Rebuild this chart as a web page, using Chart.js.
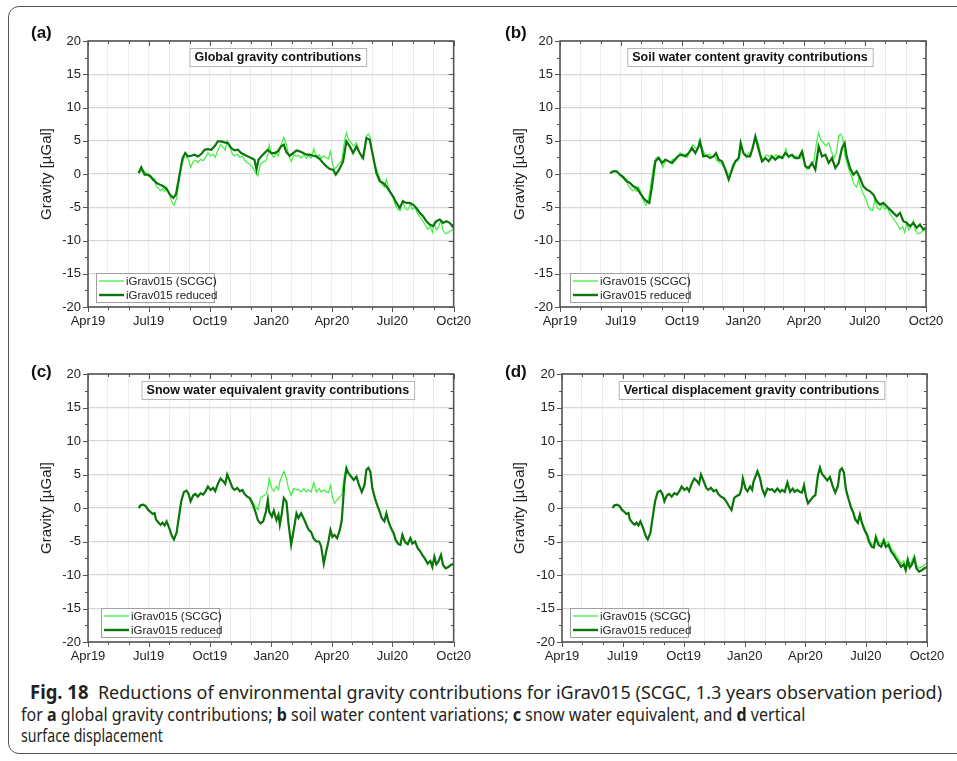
<!DOCTYPE html>
<html>
<head>
<meta charset="utf-8">
<script src="https://cdn.jsdelivr.net/npm/chart.js@4.4.1/dist/chart.umd.min.js"></script>
<style>
  body { margin: 0; background: #fff; width: 957px; height: 761px; overflow: hidden; position: relative; font-family: Arial, "Liberation Sans", sans-serif; }
  .frame { position: absolute; left: 8px; top: 6px; width: 1000px; height: 746px; border: 1.5px solid #555; border-radius: 11px; }
  .panel { position: absolute; }
  .tag { position: absolute; font-weight: bold; font-size: 17px; color: #111; }
  .caption { position: absolute; left: 21px; top: 681px; font-family: "Noto Sans", "Open Sans", Arial, sans-serif; font-size: 18.5px; line-height: 21px; color: #231f20; white-space: nowrap; }
  .caption span { display: inline-block; transform-origin: 0 0; }
  .caption b { font-weight: bold; }
  .caption .fig { font-size: 19px; }
</style>
</head>
<body>
<div class="frame"></div>

<canvas id="pa" class="panel" width="478" height="330" style="left:0;top:0"></canvas>
<canvas id="pb" class="panel" width="479" height="330" style="left:478px;top:0"></canvas>
<canvas id="pc" class="panel" width="478" height="335" style="left:0;top:330px"></canvas>
<canvas id="pd" class="panel" width="479" height="335" style="left:478px;top:330px"></canvas>

<div class="tag" style="left:31px;top:23px">(a)</div>
<div class="tag" style="left:505px;top:23px">(b)</div>
<div class="tag" style="left:31px;top:362px">(c)</div>
<div class="tag" style="left:505px;top:362px">(d)</div>

<div class="caption" id="caption">
  <div style="padding-left:9px"><span data-w="912"><b class="fig">Fig. 18</b>&nbsp; Reductions of environmental gravity contributions for iGrav015 (SCGC, 1.3 years observation period)</span></div>
  <div><span data-w="784">for <b>a</b> global gravity contributions; <b>b</b> soil water content variations; <b>c</b> snow water equivalent, and <b>d</b> vertical</span></div>
  <div><span data-w="142">surface displacement</span></div>
</div>

<script>
// days counted from 1 Apr 2019
const tickLabels = ['Apr19', 'Jul19', 'Oct19', 'Jan20', 'Apr20', 'Jul20', 'Oct20'];
const seriesNames = ['iGrav015 (SCGC)', 'iGrav015 reduced'];
const panelTitles = ['Global gravity contributions', 'Soil water content gravity contributions',
  'Snow water equivalent gravity contributions', 'Vertical displacement gravity contributions'];

// observed residual (light green), same in all panels
const scgcDays = [76, 79, 83, 87, 90, 94, 97, 100, 102, 106,
  109, 112, 115, 118, 122, 126, 129, 133, 137, 140,
  144, 148, 151, 154, 158, 161, 165, 169, 173, 177,
  180, 184, 188, 191, 195, 199, 203, 206, 209, 213,
  217, 220, 224, 228, 232, 235, 239, 243, 247, 251,
  255, 259, 263, 267, 270, 272, 276, 279, 283, 286,
  288, 291, 294, 298, 301, 305, 309, 313, 316, 320,
  324, 328, 331, 335, 339, 343, 347, 350, 354, 358,
  361, 364, 367, 370, 374, 378, 381, 385, 388, 391,
  395, 399, 403, 407, 411, 415, 418, 421, 424, 427,
  431, 435, 438, 441, 445, 448, 451, 455, 459, 462,
  466, 469, 472, 476, 480, 484, 487, 491, 495, 499,
  502, 506, 510, 514, 517, 520, 523, 526, 530, 533,
  537, 541, 545, 549];
const scgc = [0.0, 0.4, 0.5, 0.25, -0.25, -0.6, -0.9, -0.75, -1.7, -2.2,
  -2.5, -2.2, -2.6, -2.0, -3.0, -4.2, -4.7, -3.7, -1.0, 1.0,
  2.4, 2.6, 2.1, 1.0, 1.9, 2.1, 1.7, 2.2, 2.0, 2.6,
  3.2, 2.7, 3.0, 2.5, 3.6, 4.4, 4.0, 3.6, 5.0, 4.0,
  3.0, 2.7, 3.0, 2.5, 2.7, 2.1, 1.7, 1.5, 1.0, 0.3,
  -0.3, 1.5, 1.8, 2.0, 2.9, 4.4, 2.9, 2.5, 3.2, 2.7,
  3.9, 4.7, 5.5, 4.4, 2.9, 1.9, 2.9, 2.7, 2.8, 2.4,
  2.9, 2.4, 2.7, 2.4, 3.8, 2.4, 2.9, 2.4, 2.7, 2.4,
  2.3, 3.4, 1.7, 0.7, 1.2, 1.7, 1.9, 4.9, 6.2, 5.2,
  4.7, 4.2, 4.7, 3.4, 2.4, 3.4, 5.7, 6.0, 5.4, 2.9,
  1.4, 0.2, -0.55, -1.5, -2.0, -0.8, -2.0, -3.0, -3.8, -4.8,
  -5.4, -5.5, -4.0, -5.1, -5.4, -4.5, -5.3, -5.0, -6.0, -6.5,
  -7.0, -7.6, -8.3, -7.9, -8.8, -7.3, -8.4, -8.0, -7.0, -8.5,
  -9.0, -8.8, -8.5, -8.3];

// (a) reduced by global contributions
const globalDays = [76, 80, 85, 90, 94, 98, 103, 108, 113, 118,
  123, 128, 132, 137, 142, 146, 150, 155, 160, 165,
  170, 175, 180, 185, 190, 195, 200, 205, 210, 215,
  220, 225, 230, 235, 240, 245, 250, 253, 256, 260,
  265, 270, 275, 280, 285, 290, 294, 298, 303, 308,
  313, 318, 323, 328, 333, 338, 343, 348, 353, 358,
  363, 368, 372, 377, 383, 388, 393, 398, 403, 408,
  413, 418, 423, 427, 433, 438, 443, 448, 453, 458,
  463, 468, 473, 478, 483, 488, 493, 498, 503, 508,
  513, 518, 523, 528, 533, 538, 543, 549];
const globalReduced = [0.15, 1.0, -0.1, -0.1, -0.35, -0.85, -1.35, -1.6, -1.85, -2.25,
  -3.1, -3.6, -3.1, -0.35, 2.4, 3.15, 2.65, 2.75, 2.9, 2.65,
  3.0, 3.65, 3.75, 3.65, 4.15, 4.9, 4.9, 4.75, 4.65, 3.9,
  3.55, 3.65, 3.15, 2.9, 2.65, 2.4, 2.15, 0.65, 2.15, 2.65,
  3.15, 3.65, 3.15, 3.15, 3.4, 4.15, 4.4, 3.25, 2.75, 3.15,
  3.55, 3.4, 3.15, 2.9, 2.9, 2.75, 2.65, 2.25, 1.65, 1.15,
  0.75, 0.65, -0.1, 0.65, 1.9, 4.9, 4.15, 3.15, 4.15, 3.15,
  2.4, 5.4, 5.15, 3.15, 0.15, -1.1, -1.35, -1.85, -2.6, -3.35,
  -4.35, -5.1, -4.1, -4.35, -4.35, -4.6, -5.1, -5.85, -6.35, -7.1,
  -7.6, -7.85, -7.1, -6.85, -7.35, -7.1, -7.35, -8.1];

// (b) reduced by soil water content
const soilDays = [75, 80, 85, 90, 95, 100, 105, 110, 115, 120,
  125, 130, 134, 138, 143, 148, 153, 158, 163, 168,
  173, 178, 183, 188, 193, 198, 203, 208, 210, 215,
  220, 225, 230, 234, 238, 243, 248, 253, 258, 263,
  268, 271, 275, 280, 285, 289, 293, 298, 303, 308,
  313, 318, 323, 328, 333, 338, 343, 348, 353, 358,
  363, 368, 373, 378, 383, 388, 393, 398, 403, 408,
  413, 418, 423, 427, 430, 435, 440, 445, 450, 455,
  460, 465, 470, 475, 480, 485, 490, 495, 500, 505,
  510, 515, 520, 525, 530, 535, 540, 545, 549];
const soilReduced = [0.15, 0.4, 0.4, -0.1, -0.45, -1.1, -1.35, -1.85, -2.1, -2.85,
  -3.6, -4.1, -4.35, -1.85, 1.9, 2.4, 1.65, 2.15, 1.9, 1.65,
  2.25, 2.75, 2.9, 2.65, 3.15, 3.9, 3.15, 4.15, 4.9, 2.65,
  2.75, 2.4, 2.65, 3.15, 2.15, 1.9, 0.65, -0.85, 0.65, 1.9,
  2.4, 4.65, 3.15, 2.65, 2.65, 3.9, 5.65, 3.65, 1.9, 2.4,
  1.9, 2.65, 2.15, 2.65, 2.4, 3.15, 2.65, 2.9, 2.4, 2.4,
  3.4, 1.15, 0.9, 1.65, 0.65, 4.15, 2.65, 2.9, 1.65, 2.4,
  0.9, 1.65, 3.9, 4.65, 2.65, 0.9, -0.1, 0.4, -0.6, -1.85,
  -2.35, -2.6, -3.1, -4.1, -4.6, -4.35, -4.85, -5.35, -5.85, -6.35,
  -5.85, -7.1, -7.35, -7.85, -7.35, -8.1, -7.6, -8.35, -8.1];

// (c) reduced by snow water equivalent (on scgcDays)
const snowReduced = [0.0, 0.4, 0.5, 0.25, -0.25, -0.6, -0.9, -0.75, -1.7, -2.2,
  -2.5, -2.2, -2.6, -2.0, -3.0, -4.2, -4.7, -3.7, -1.0, 1.0,
  2.4, 2.6, 2.1, 1.0, 1.9, 2.1, 1.7, 2.2, 2.0, 2.6,
  3.2, 2.7, 3.0, 2.5, 3.6, 4.4, 4.0, 3.6, 5.0, 4.0,
  3.0, 2.7, 3.0, 2.5, 2.7, 2.1, 1.7, 1.5, 0.6, -0.45,
  -1.8, -2.3, -2.0, -0.6, 1.2, -0.5, -1.3, -0.4, -1.8, -1.0,
  -2.5, -0.8, 1.5, 0.9, -2.3, -5.5, -3.2, -0.8, -1.5, -0.8,
  -1.6, -2.5, -3.2, -3.6, -4.6, -5.0, -5.0, -5.7, -8.3, -6.3,
  -5.0, -3.3, -4.3, -4.0, -4.5, -3.3, -1.8, 3.8, 5.9, 5.2,
  4.7, 4.2, 4.7, 3.4, 2.4, 3.4, 5.7, 6.0, 5.4, 2.9,
  1.4, 0.2, -0.55, -1.5, -2.0, -0.8, -2.0, -3.0, -3.8, -4.8,
  -5.4, -5.5, -4.0, -5.1, -5.4, -4.5, -5.3, -5.0, -6.0, -6.5,
  -7.0, -7.6, -8.3, -7.9, -8.8, -7.3, -8.4, -8.0, -7.0, -8.5,
  -9.0, -8.8, -8.5, -8.3];

// (d) reduced by vertical displacement (on scgcDays)
const verticalReduced = [0.0, 0.4, 0.5, 0.25, -0.25, -0.6, -0.9, -0.75, -1.7, -2.2,
  -2.5, -2.2, -2.6, -2.0, -3.0, -4.2, -4.7, -3.7, -1.0, 1.0,
  2.4, 2.6, 2.1, 1.0, 1.9, 2.1, 1.7, 2.2, 2.0, 2.6,
  3.2, 2.7, 3.0, 2.5, 3.6, 4.4, 4.0, 3.6, 5.0, 4.0,
  3.0, 2.7, 3.0, 2.5, 2.7, 2.1, 1.7, 1.5, 1.0, 0.3,
  -0.3, 1.5, 1.8, 2.0, 2.9, 4.4, 2.9, 2.5, 3.2, 2.7,
  3.9, 4.7, 5.5, 4.4, 2.9, 1.9, 2.9, 2.7, 2.8, 2.4,
  2.9, 2.4, 2.7, 2.4, 3.8, 2.4, 2.9, 2.4, 2.7, 2.4,
  2.3, 3.4, 1.7, 0.7, 1.2, 1.7, 1.9, 4.9, 6.0, 5.1,
  4.6, 4.1, 4.6, 3.3, 2.3, 3.3, 5.6, 5.9, 5.3, 2.8,
  1.3, 0.0, -0.7, -1.7, -2.2, -1.0, -2.2, -3.3, -4.1, -5.1,
  -5.8, -5.9, -4.4, -5.5, -5.8, -4.9, -5.8, -5.5, -6.5, -7.0,
  -7.5, -8.1, -8.8, -8.4, -9.3, -7.8, -8.9, -8.5, -7.5, -9.0,
  -9.5, -9.3, -9.0, -8.8];

const start = Date.UTC(2019, 3, 1);
const monthDays = [];
for (let i = 0; i <= 18; i++) monthDays.push((Date.UTC(2019, 3 + i, 1) - start) / 864e5);

const pts = (xs, ys) => xs.map((d, i) => ({ x: d, y: ys[i] }));

const lightGreen = '#3cf03c';
const darkGreen = '#0a760a';

const decor = {
  id: 'decor',
  afterDraw(chart, args, opts) {
    const { ctx, chartArea: a, scales: { x, y } } = chart;
    const line = (x1, y1, x2, y2) => { ctx.beginPath(); ctx.moveTo(x1, y1); ctx.lineTo(x2, y2); ctx.stroke(); };
    ctx.save();
    ctx.strokeStyle = '#555';
    ctx.lineWidth = 1;
    monthDays.forEach((d, i) => {
      const px = Math.round(x.getPixelForValue(d)) + 0.5;
      const len = i % 3 === 0 ? 5 : 3;
      line(px, a.bottom, px, a.bottom + len);
      line(px, a.top, px, a.top + len);
    });
    for (let v = -20; v <= 20; v += 2.5) {
      const py = Math.round(y.getPixelForValue(v)) + 0.5;
      const len = v % 5 === 0 ? 5 : 3;
      line(a.left - len, py, a.left, py);
      line(a.right - len, py, a.right, py);
    }
    ctx.lineWidth = 1.6;
    ctx.strokeRect(a.left, a.top, a.right - a.left, a.bottom - a.top);

    // title box
    ctx.font = 'bold 12.5px Arial';
    const tw = ctx.measureText(opts.title).width;
    const cx = (a.left + a.right) / 2 + 7;
    const bx = cx - tw / 2 - 5, by = a.top + 7;
    ctx.fillStyle = '#fff';
    ctx.fillRect(bx, by, tw + 10, 18);
    ctx.strokeStyle = '#b5b5b5';
    ctx.lineWidth = 1;
    ctx.strokeRect(bx + 0.5, by + 0.5, tw + 10, 18);
    ctx.fillStyle = '#111';
    ctx.textBaseline = 'middle';
    ctx.textAlign = 'left';
    ctx.fillText(opts.title, bx + 5, by + 10);

    // legend
    const lx = a.left + opts.legendDx, ly = a.bottom - 34;
    ctx.fillStyle = '#fff';
    ctx.fillRect(lx, ly, 118, 29);
    ctx.strokeStyle = '#a0a0a0';
    ctx.strokeRect(lx + 0.5, ly + 0.5, 118, 29);
    ctx.font = '11.5px Arial';
    ctx.fillStyle = '#222';
    [[lightGreen, 1.3], [darkGreen, 2.4]].forEach(([c, w], i) => {
      const yy = ly + 8 + i * 14;
      ctx.strokeStyle = c;
      ctx.lineWidth = w;
      line(lx + 3, yy, lx + 28, yy);
      ctx.fillText(seriesNames[i], lx + 30, yy + 0.5);
    });
    ctx.restore();
  }
};

function makePanel(id, p) {
  new Chart(document.getElementById(id), {
    type: 'line',
    data: {
      datasets: [
        { data: pts(p.days, p.values), borderColor: darkGreen, borderWidth: 2.2, pointRadius: 0, tension: 0 },
        { data: pts(scgcDays, scgc), borderColor: lightGreen, borderWidth: 1.2, pointRadius: 0, tension: 0 }
      ]
    },
    options: {
      responsive: false,
      animation: false,
      layout: { padding: { top: p.top, right: p.right, left: 0, bottom: 0 } },
      plugins: {
        legend: { display: false },
        tooltip: { enabled: false },
        decor: { title: p.title, legendDx: p.legendDx }
      },
      scales: {
        x: {
          type: 'linear',
          min: 0,
          max: 549,
          afterBuildTicks: s => { s.ticks = monthDays.map(v => ({ value: v })); },
          afterFit: s => { s.height = 23; },
          grid: { color: '#ececec', lineWidth: 1, drawTicks: false },
          border: { display: false },
          ticks: {
            autoSkip: false,
            maxRotation: 0,
            padding: 7,
            color: '#222',
            font: { size: 13, family: 'Arial' },
            callback: v => {
              const i = monthDays.indexOf(v);
              return i >= 0 && i % 3 === 0 ? tickLabels[i / 3] : '';
            }
          }
        },
        y: {
          min: -20,
          max: 20,
          afterFit: s => { s.width = p.yw; },
          grid: { color: '#d8d8d8', lineWidth: 1.3, drawTicks: false },
          border: { display: false },
          ticks: { stepSize: 5, padding: 7, color: '#222', font: { size: 13, family: 'Arial' } },
          title: {
            display: true,
            text: 'Gravity [µGal]',
            color: '#222',
            font: { size: 15, family: 'Arial' },
            padding: { top: p.tp, bottom: 0 }
          }
        }
      }
    },
    plugins: [decor]
  });
}

makePanel('pa', { days: globalDays, values: globalReduced, title: panelTitles[0], top: 41, right: 24, yw: 88, tp: 38, legendDx: 8 });
makePanel('pb', { days: soilDays, values: soilReduced, title: panelTitles[1], top: 41, right: 31, yw: 82, tp: 33, legendDx: 10 });
makePanel('pc', { days: scgcDays, values: snowReduced, title: panelTitles[2], top: 44, right: 24, yw: 88, tp: 38, legendDx: 13 });
makePanel('pd', { days: scgcDays, values: verticalReduced, title: panelTitles[3], top: 44, right: 30, yw: 84, tp: 33, legendDx: 8 });

// squeeze each caption line to its printed width
document.querySelectorAll('#caption span[data-w]').forEach(el => {
  const k = +el.dataset.w / el.getBoundingClientRect().width;
  el.style.transform = 'scaleX(' + k.toFixed(3) + ')';
});
</script>
</body>
</html>
